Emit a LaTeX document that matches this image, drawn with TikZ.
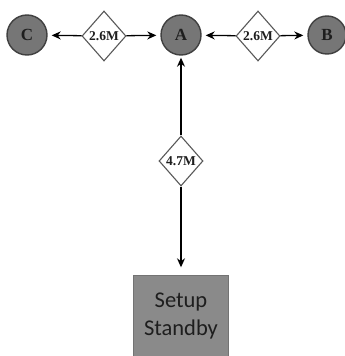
\documentclass[tikz,border=0pt]{standalone}
\usepackage{fontspec}
\setmainfont{Liberation Serif}
\newfontfamily\boxfont{Carlito}
\usetikzlibrary{shapes.geometric,arrows.meta}
\definecolor{sitegray}{HTML}{767676}
\definecolor{boxgray}{HTML}{8A8A8A}
\definecolor{inkgray}{HTML}{1E1E1E}
\tikzset{
  site/.style={circle,draw=black!75,line width=1.4pt,fill=sitegray,text=inkgray,
    minimum size=40pt,inner sep=0pt,font=\fontsize{17}{17}\selectfont\bfseries},
  rate/.style={diamond,draw=black!65,line width=1.1pt,fill=white,text=inkgray,
    minimum width=44pt,minimum height=50pt,inner sep=0pt,font=\fontsize{13.5}{13.5}\selectfont\bfseries},
  standby/.style={rectangle,draw=black!55,fill=boxgray,text=inkgray,
    minimum width=95pt,minimum height=81pt,align=center,font=\boxfont\fontsize{22.5}{28}\selectfont},
  link/.style={line width=1.3pt,-{Stealth[length=9pt,width=8pt]},shorten >=4pt}
}
\begin{document}
\begin{tikzpicture}[x=1pt,y=-1pt]
      \useasboundingbox (0,0) rectangle (345,356);
      \draw
        (27,35) node[site] (C){C}
        (181,35) node[site] (A){A}
        (327,35) node[site,minimum size=38pt] (B){B}
        (104,36) node[rate] (CA){\makebox[0pt]{2.6M}}
        (258,36) node[rate] (AB){\makebox[0pt]{2.6M}}
        (181,161) node[rate] (AS){\makebox[0pt]{4.7M}}
        (181,316) node[standby] (S){Setup\\Standby};
      \begin{scope}[link]
        \draw (CA) to (C);
        \draw (CA) to (A);
        \draw (AB) to (A);
        \draw (AB) to (B);
        \draw [shorten >=2pt] (AS) to (A);
        \draw [shorten >=8pt] (AS) to (S);
      \end{scope}
    \end{tikzpicture}
\end{document}
